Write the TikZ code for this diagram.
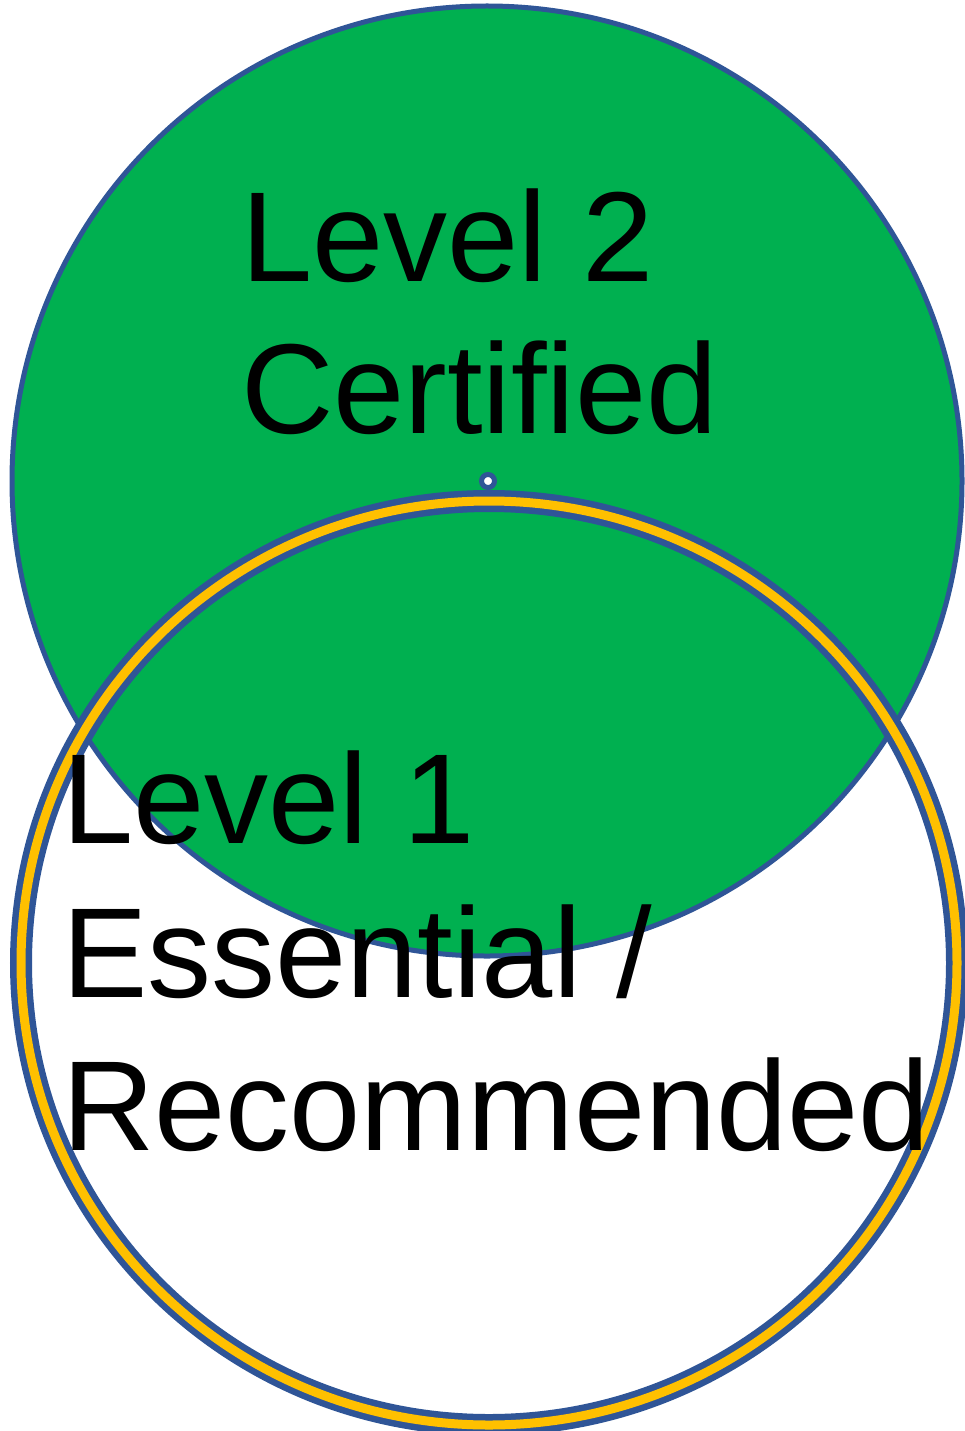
\documentclass[tikz,border=0pt]{standalone}
\usepackage{fontspec}
\setmainfont{Liberation Sans}
\definecolor{levelgreen}{HTML}{00B050}
\definecolor{rimblue}{HTML}{2F5597}
\definecolor{ringgold}{HTML}{FFC000}
\begin{document}
\begin{tikzpicture}[x=1pt,y=-1pt,
  bigtext/.style={inner sep=0pt, anchor=base west, font=\fontsize{128}{148}\selectfont, text=black}]
\useasboundingbox[fill=white] (0,0) rectangle (964,1431);
% upper circle: Level 2
\filldraw[fill=levelgreen, draw=rimblue, line width=5pt] (487,481) circle[radius=475];
% lower circle: Level 1, drawn as an open double ring
\draw[draw=rimblue, line width=22pt] (489,963) ellipse[x radius=468, y radius=462];
\draw[draw=ringgold, line width=9pt] (489,963) ellipse[x radius=468, y radius=462];
% centre marker of the upper circle
\filldraw[fill=white, draw=rimblue, line width=5pt] (488,481) circle[radius=6.5];
% labels
\node[bigtext] (l2a) at (241,281) {Level 2};
\node[bigtext] (l2b) at (241,433) {Certified};
\node[bigtext] (l1a) at (62,843) {Level 1};
\node[bigtext] (l1b) at (62,997) {Essential /};
\node[bigtext] (l1c) at (62,1150) {Recommended};
\end{tikzpicture}
\end{document}
